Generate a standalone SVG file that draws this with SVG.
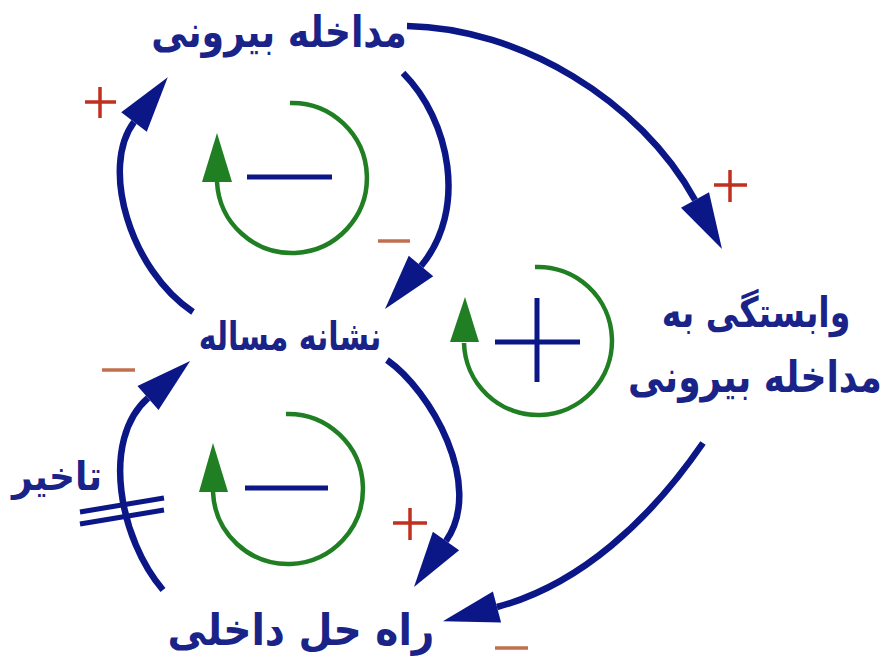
<svg xmlns="http://www.w3.org/2000/svg" width="887" height="660" viewBox="0 0 887 660">
<style>
.lbl{font-family:"DejaVu Sans","Noto Sans",sans-serif;font-weight:bold;fill:#1a2388;text-anchor:middle}
.arr{fill:none;stroke:#0b1787;stroke-width:6.5;stroke-linecap:butt}
.loop{fill:none;stroke:#1f7f22;stroke-width:4.5}
.loophead{fill:#1f7f22}
.sign{stroke:#0b1787;stroke-width:5;fill:none}
.plus{stroke:#c0301f;stroke-width:3.5;fill:none}
.minus{stroke:#c0704f;stroke-width:3.5;fill:none}
</style>
<defs>
<marker id="ah" markerUnits="userSpaceOnUse" markerWidth="60" markerHeight="40" refX="0" refY="17" orient="auto" overflow="visible">
<path d="M0,1 L56,17 L0,33 Z" fill="#0b1787"/>
</marker>
</defs>
<rect width="887" height="660" fill="#ffffff"/>
<g id="connectors">
<path class="arr" d="M193,312 C130,270 100,167 134,122" marker-end="url(#ah)"/>
<path class="arr" d="M403,73 C450,120 468,210 421,266" marker-end="url(#ah)"/>
<path class="arr" d="M407,26 C520,28 640,100 695,200" marker-end="url(#ah)"/>
<path class="arr" d="M387,360 C430,390 485,485 446,541" marker-end="url(#ah)"/>
<path class="arr" d="M703,443 C650,520 580,585 497,607" marker-end="url(#ah)"/>
<path class="arr" d="M163,590 C120,540 100,440 148,398" marker-end="url(#ah)"/>
<line class="sign" x1="80" y1="512" x2="164" y2="498"/>
<line class="sign" x1="80" y1="524" x2="164" y2="510"/>
</g>
<g id="polarities">
<path class="plus" d="M85,102 H116 M100,87 V118"/>
<path class="minus" d="M378,241 H410"/>
<path class="plus" d="M714,185 H747 M730,170 V202"/>
<path class="minus" d="M102,370 H135"/>
<path class="plus" d="M393,523 H427 M410,508 V540"/>
<path class="minus" d="M495,648 H528"/>
</g>
<g id="loop-top">
<path class="loop" d="M290,103 A75,75 0 1 1 217,182"/>
<polygon class="loophead" points="217,133 202,182 232,182"/>
<line class="sign" x1="247" y1="177" x2="332" y2="177"/>
</g>
<g id="loop-bottom">
<path class="loop" d="M286,414 A75,75 0 1 1 213,492"/>
<polygon class="loophead" points="213,443 199,492 228,492"/>
<line class="sign" x1="245" y1="488" x2="328" y2="488"/>
</g>
<g id="loop-middle">
<path class="loop" d="M535,267 A74,74 0 1 1 464,343"/>
<polygon class="loophead" points="465,297 450,342 479,342"/>
<path class="sign" d="M495,342 H580 M537,298 V382"/>
</g>
<g id="node-external">
<text class="lbl" transform="translate(279,47) scale(0.826,1)" font-size="44">مداخله بیرونی</text>
</g>
<g id="node-symptom">
<text class="lbl" transform="translate(290,350) scale(0.75,1)" font-size="40">نشانه مساله</text>
</g>
<g id="node-internal">
<text class="lbl" transform="translate(301,645) scale(0.89,1)" font-size="44">راه حل داخلی</text>
</g>
<g id="node-dependence">
<text class="lbl" transform="translate(756,327) scale(0.79,1)" font-size="42">وابستگی به</text>
<text class="lbl" transform="translate(755,392) scale(0.82,1)" font-size="44">مداخله بیرونی</text>
</g>
<g id="delay">
<text class="lbl" transform="translate(57,490) scale(0.9,1)" font-size="40">تاخیر</text>
</g>
</svg>
